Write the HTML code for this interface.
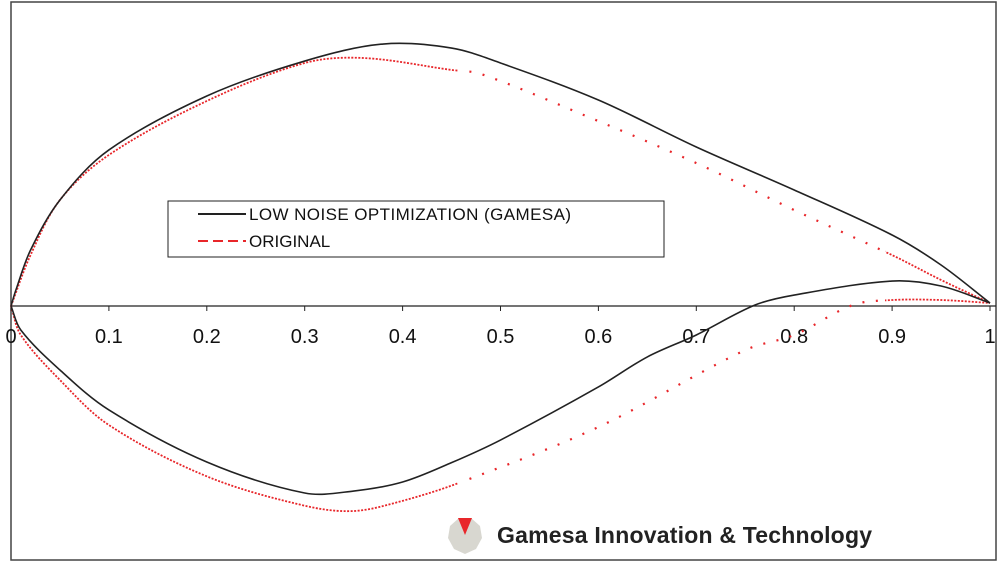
<!DOCTYPE html>
<html><head><meta charset="utf-8"><style>
body{margin:0;background:#fff;width:1000px;height:566px;overflow:hidden}
svg{position:absolute;left:0;top:0}
text{font-family:"Liberation Sans",Arial,sans-serif}
</style></head><body>
<svg id="c" width="1000" height="566">
<defs>
<clipPath id="dense"><rect x="0" y="0" width="458" height="566"/><rect x="885" y="0" width="115" height="566"/></clipPath>
<clipPath id="sparse"><rect x="466" y="0" width="414" height="566"/></clipPath>
</defs>
<rect x="11" y="2" width="985" height="558" fill="none" stroke="#444" stroke-width="1.5"/>
</svg>
<script>
const ticks=[0,0.1,0.2,0.3,0.4,0.5,0.6,0.7,0.8,0.9,1];
const tickLabels=["0","0.1","0.2","0.3","0.4","0.5","0.6","0.7","0.8","0.9","1"];
const gUpX=[0,0.005,0.02,0.05,0.1,0.2,0.3,0.38,0.45,0.5,0.6,0.7,0.8,0.9,0.95,1];
const gUpY=[0,0.0163,0.0572,0.1083,0.1594,0.2145,0.2502,0.2676,0.2635,0.2482,0.2104,0.1624,0.1185,0.0725,0.0419,0.0031];
const gLoX=[0,0.01,0.05,0.1,0.2,0.3,0.35,0.4,0.45,0.5,0.6,0.65,0.7,0.76,0.8,0.9,0.95,1];
const gLoY=[0,-0.0245,-0.0654,-0.1062,-0.1593,-0.1910,-0.1890,-0.1798,-0.1600,-0.1369,-0.0827,-0.0520,-0.0296,0.0010,0.0112,0.0255,0.0204,0.0031];
const oUpX=[0,0.02,0.05,0.1,0.2,0.3,0.36,0.45,0.48,0.59,0.7,0.8,0.9,0.95,1];
const oUpY=[0,0.0521,0.1083,0.1543,0.2094,0.2482,0.2533,0.2411,0.2370,0.1930,0.1460,0.0980,0.0520,0.0266,0.0031];
const oLoX=[0,0.01,0.05,0.1,0.2,0.3,0.35,0.4,0.46,0.6,0.75,0.8,0.86,0.9,0.95,1];
const oLoY=[0,-0.0296,-0.0756,-0.1216,-0.1740,-0.2040,-0.2094,-0.1990,-0.1798,-0.1236,-0.0450,-0.0296,0.0010,0.0061,0.0061,0.0031];
const X=v=>11+v*979, Y=v=>306-v*979;
const svg=document.getElementById('c'),NS="http://www.w3.org/2000/svg";
function el(t,a){const e=document.createElementNS(NS,t);for(const k in a)e.setAttribute(k,a[k]);svg.appendChild(e);return e;}
function path(xs,ys){const p=xs.map((x,i)=>[X(x),Y(ys[i])]);const n=p.length;
const dist=(a,b)=>Math.hypot(a[0]-b[0],a[1]-b[1]);
const tan=p.map((q,i)=>{const a=p[Math.max(0,i-1)],b=p[Math.min(n-1,i+1)];const L=dist(a,b)||1;return[(b[0]-a[0])/L,(b[1]-a[1])/L];});
let d=`M${p[0][0]},${p[0][1]}`;
for(let i=0;i<n-1;i++){const s=dist(p[i],p[i+1])/3;
d+=` C${p[i][0]+tan[i][0]*s},${p[i][1]+tan[i][1]*s} ${p[i+1][0]-tan[i+1][0]*s},${p[i+1][1]-tan[i+1][1]*s} ${p[i+1][0]},${p[i+1][1]}`;}return d;}
const ax=el('line',{x1:11,y1:306,x2:996,y2:306,stroke:'#222','stroke-width':1.3});


ticks.forEach((t,i)=>{
const l=el('line',{x1:X(t),y1:306,x2:X(t),y2:311,stroke:'#222'});


const tx=el('text',{x:X(t),y:343,'font-size':20,'text-anchor':'middle',fill:'#111'});tx.textContent=tickLabels[i];


});
[[oUpX,oUpY,'original-upper'],[oLoX,oLoY,'original-lower']].forEach(s=>{
const d=path(s[0],s[1]);
const e=el('path',{d:d,fill:'none',stroke:'#e8262a','stroke-width':1.8,'stroke-dasharray':'2 1.5','clip-path':'url(#dense)'});


const e2=el('path',{d:d,fill:'none',stroke:'#e8262a','stroke-width':2.2,'stroke-dasharray':'2 11.5','clip-path':'url(#sparse)'});


});
[[gUpX,gUpY,'gamesa-upper'],[gLoX,gLoY,'gamesa-lower']].forEach(s=>{
const e=el('path',{d:path(s[0],s[1]),fill:'none',stroke:'#222','stroke-width':1.6});


});
</script>
<svg width="1000" height="566" style="pointer-events:none">
<g>
<rect x="168" y="201" width="496" height="56" fill="#fff" stroke="#222" stroke-width="1"/>
<line x1="198" y1="214" x2="246" y2="214" stroke="#222" stroke-width="2"/>
<text x="249" y="220" font-size="17" fill="#111" textLength="322">LOW NOISE OPTIMIZATION (GAMESA)</text>
<line x1="198" y1="241" x2="246" y2="241" stroke="#e8262a" stroke-width="2" stroke-dasharray="10 5"/>
<text x="249" y="247" font-size="17" fill="#111">ORIGINAL</text>
</g>
<g>
<polygon points="459,518 471,518 480,526 482,538 476,549 465,554 454,549 448,538 450,526" fill="#d8d7d0"/>
<polygon points="458,518 472,518 465,535" fill="#e8262a"/>
<text x="497" y="543" font-size="23" font-weight="bold" fill="#222" textLength="375">Gamesa Innovation &amp; Technology</text>
</g>
</svg>
</body></html>
